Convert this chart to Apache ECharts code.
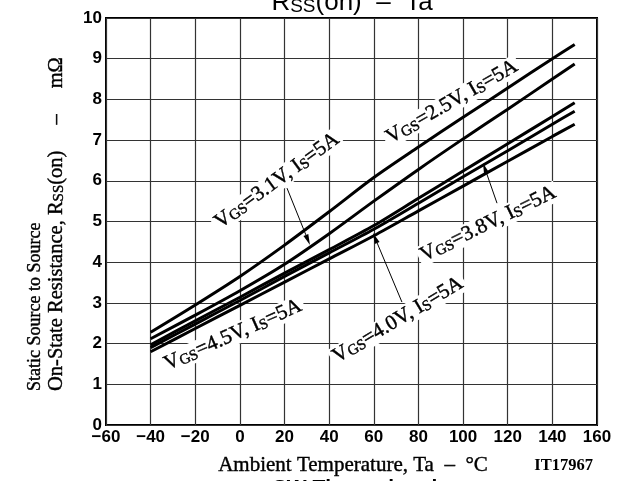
<!DOCTYPE html>
<html><head><meta charset="utf-8">
<script src="https://cdn.jsdelivr.net/npm/echarts@6/dist/echarts.min.js"></script>
<style>html,body{margin:0;padding:0;background:#fff}#c{width:617px;height:481px}</style>
</head><body><div id="c"></div>
<script>
// Data
var temps = [-40, -20, 0, 20, 40, 60, 80, 100, 120, 140, 150];
var vgs25 = [2.28, 2.95, 3.65, 4.42, 5.24, 6.08, 6.83, 7.56, 8.28, 9.0, 9.35];
var vgs31 = [2.12, 2.70, 3.30, 3.95, 4.70, 5.50, 6.28, 7.03, 7.76, 8.50, 8.87];
var vgs38 = [1.97, 2.56, 3.14, 3.73, 4.31, 4.90, 5.57, 6.24, 6.91, 7.58, 7.92];
var vgs40 = [1.90, 2.48, 3.06, 3.65, 4.23, 4.81, 5.45, 6.10, 6.74, 7.39, 7.71];
var vgs45 = [1.80, 2.37, 2.94, 3.51, 4.08, 4.65, 5.26, 5.87, 6.48, 7.09, 7.39];
var xTicks = [-60, -40, -20, 0, 20, 40, 60, 80, 100, 120, 140, 160];
var yTicks = [0, 1, 2, 3, 4, 5, 6, 7, 8, 9, 10];

function pairs(ys) { return temps.map(function (t, i) { return [t, ys[i]]; }); }

var chart = echarts.init(document.getElementById('c'), null, {renderer: 'canvas'});
var serif = '"Liberation Serif", "DejaVu Serif", serif';
var sans = '"Liberation Sans", Arial, sans-serif';

function lineSeries(name, ys) {
  return {
    name: name, type: 'line', data: pairs(ys), smooth: 0.3, symbol: 'none', z: 3,
    lineStyle: {color: '#000', width: 3}
  };
}

chart.setOption({
  animation: false,
  backgroundColor: '#fff',
  grid: {left: 106, right: 20, top: 18, bottom: 56, show: true, borderColor: '#000', borderWidth: 2},
  xAxis: {
    type: 'value', min: xTicks[0], max: xTicks[xTicks.length - 1], interval: 20,
    axisLine: {show: false}, axisTick: {show: false},
    splitLine: {show: true, lineStyle: {color: '#333', width: 1.2}},
    axisLabel: {color: '#000', fontFamily: sans, fontWeight: 'bold', fontSize: 17, margin: 4,
      formatter: function (v) { return String(v).replace('-', '\u2212'); }}
  },
  yAxis: {
    type: 'value', min: yTicks[0], max: yTicks[yTicks.length - 1], interval: 1,
    axisLine: {show: false}, axisTick: {show: false},
    splitLine: {show: true, lineStyle: {color: '#333', width: 1.2}},
    axisLabel: {color: '#000', fontFamily: sans, fontWeight: 'bold', fontSize: 17, margin: 4}
  },
  series: [
    lineSeries('VGS=2.5V', vgs25),
    lineSeries('VGS=3.1V', vgs31),
    lineSeries('VGS=3.8V', vgs38),
    lineSeries('VGS=4.0V', vgs40),
    lineSeries('VGS=4.5V', vgs45)
  ]
});

var thick = {stroke: '#000', lineWidth: 0.4};
// rich text styles with subscripts
function richStyles(fs, sub, gap) {
  return {
    n: Object.assign({fontFamily: serif, fontSize: fs, lineHeight: fs, verticalAlign: 'top', padding: [0, 0, Math.round(fs * 0.3), 0], fill: '#000'}, thick),
    s: Object.assign({fontFamily: serif, fontSize: sub, lineHeight: sub, verticalAlign: 'bottom', fill: '#000'}, thick),
    d: Object.assign({fontFamily: serif, fontSize: fs, lineHeight: fs, verticalAlign: 'top', padding: [0, gap || 0, Math.round(fs * 0.3), gap || 0], fill: '#000'}, thick)
  };
}
function curveLabel(name, t, r, deg) {
  var p = chart.convertToPixel({gridIndex: 0}, [t, r]);
  return {
    type: 'text', x: p[0], y: p[1], rotation: deg * Math.PI / 180, z: 1,
    style: {
      text: '{n|V}{s|GS}{n|=' + name + ', I}{s|S}{n|=5A}',
      rich: richStyles(21, 15), align: 'center', verticalAlign: 'middle',
      backgroundColor: '#fff', padding: [0, 3]
    }
  };
}
function arrow(t1, r1, t2, r2) {
  var a = chart.convertToPixel({gridIndex: 0}, [t1, r1]);
  var b = chart.convertToPixel({gridIndex: 0}, [t2, r2]);
  var dx = b[0] - a[0], dy = b[1] - a[1], L = Math.sqrt(dx * dx + dy * dy);
  var ux = dx / L, uy = dy / L, hl = 11, hw = 2.6;
  var bx = b[0] - ux * hl, by = b[1] - uy * hl;
  return [
    {type: 'line', z: 5, shape: {x1: a[0], y1: a[1], x2: bx, y2: by}, style: {stroke: '#000', lineWidth: 1}},
    {type: 'polygon', z: 5, shape: {points: [[b[0], b[1]], [bx - uy * hw, by + ux * hw], [bx + uy * hw, by - ux * hw]]}, style: {fill: '#000'}}
  ];
}

var g = [
  // title (partly cut off at top)
  {type: 'text', x: 352, y: -10, z: 6, style: {
    text: '{a|R}{b|SS}{a|(on)  \u2013  Ta}', align: 'center', verticalAlign: 'top',
    rich: {a: {fontFamily: sans, fontSize: 26, lineHeight: 26, verticalAlign: 'top', padding: [0, 0, 5, 0], fill: '#000'},
           b: {fontFamily: sans, fontSize: 19, lineHeight: 19, verticalAlign: 'bottom', fill: '#000'}}}},
  // x axis title
  {type: 'text', x: 353, y: 465, z: 6, style: Object.assign({text: 'Ambient Temperature, Ta  \u2013  \u00B0C', fontFamily: serif, fontSize: 21, fill: '#000', align: 'center', verticalAlign: 'middle'}, thick)},
  {type: 'text', x: 593, y: 466, z: 6, style: {text: 'IT17967', fontFamily: serif, fontSize: 16.5, fontWeight: 'bold', fill: '#000', align: 'right', verticalAlign: 'middle'}},
  {type: 'text', x: 355, y: 478, z: 6, style: {text: 'SW Thermal pad', fontFamily: sans, fontWeight: 'bold', fontSize: 21, fill: '#000', align: 'center', verticalAlign: 'top'}},
  // y axis title (two lines)
  {type: 'text', x: 35, y: 391, rotation: Math.PI / 2, z: 6, style: Object.assign({text: 'Static Source to Source', fontFamily: serif, fontSize: 18, fill: '#000', align: 'left', verticalAlign: 'middle'}, thick)},
  {type: 'text', x: 56, y: 391, rotation: Math.PI / 2, z: 6, style: {
    text: '{n|On-State Resistance, R}{s|SS}{n|(on)}{d|\u2013}{n|m\u03A9}', align: 'left', verticalAlign: 'middle',
    rich: richStyles(20.5, 15, 26)}},
  curveLabel('2.5V', 95.0, 7.94, 30),
  curveLabel('3.1V', 16.6, 6.0, 36),
  curveLabel('3.8V', 111.2, 4.94, 26),
  curveLabel('4.0V', 70.8, 2.58, 31),
  curveLabel('4.5V', -3.1, 2.21, 24)
];
g = g.concat(arrow(21.1, 5.82, 31.4, 4.42));
g = g.concat(arrow(115.2, 5.45, 108.9, 6.44));
g = g.concat(arrow(72.6, 3.02, 59.6, 4.72));
chart.setOption({graphic: g});
</script></body></html>
